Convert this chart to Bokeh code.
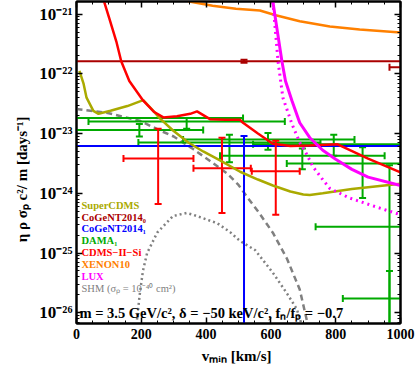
import numpy as np
from bokeh.plotting import figure
from bokeh.models import (Label, LinearAxis, LogAxis, LogTicker, FixedTicker,
                          Range1d, CustomJSTickFormatter)
from bokeh.embed import file_html
from bokeh.resources import INLINE

# ---------------- data: vmin [km/s], log10(eta rho sigma_p c^2/m [1/day]) -------------
supercdms_v = [9, 22, 31, 52, 68, 105, 157, 206, 237, 258, 298, 345, 391, 443, 505, 560,
               606, 660, 700, 720, 760, 850, 1000]
supercdms_lg = [-21.95, -22.17, -22.4, -22.62, -22.67, -22.62, -22.54, -22.44, -22.62, -22.75,
                -22.95, -23.15, -23.3, -23.45, -23.64, -23.77, -23.87, -23.97, -24.02, -24.03,
                -24.0, -23.93, -23.84]

cdms_v = [80, 101, 123, 138, 163, 206, 240, 268, 310, 351, 372, 412, 460, 505, 514, 560, 606,
          660, 720, 806, 900, 1000]
cdms_lg = [-20.7, -21.07, -21.46, -21.79, -22.12, -22.45, -22.64, -22.73, -22.71, -22.67,
           -22.63, -22.76, -22.77, -22.77, -22.82, -23.0, -23.17, -23.21, -23.2, -23.18,
           -23.42, -23.65]

xenon_v = [330, 348, 420, 492, 566, 615, 689, 782, 874, 1000]
xenon_lg = [-20.7, -20.79, -20.86, -20.91, -20.94, -21.02, -21.12, -21.21, -21.26, -21.31]

lux_v = [600, 606, 620, 634, 645, 665, 689, 720, 760, 800, 850, 900, 1000]
lux_lg = [-20.6, -20.79, -21.29, -21.79, -22.12, -22.45, -22.82, -23.07, -23.28, -23.43,
          -23.6, -23.73, -23.87]

lux2_v = [600, 606, 622, 637, 665, 689, 711, 729, 757, 782, 843, 926, 1000]
lux2_lg = [-20.6, -20.79, -21.79, -22.4, -22.84, -23.15, -23.35, -23.55, -23.75, -23.92,
           -24.08, -24.23, -24.36]

shm_v = [0, 100, 197, 258, 300, 360, 410, 465, 500, 529, 560, 606, 650, 689, 714]
shm_lg = [-22.59, -22.66, -22.79, -22.95, -23.05, -23.26, -23.45, -23.67, -23.86, -24.08,
          -24.3, -24.66, -25.1, -25.61, -26.2]

shm2_v = [185, 195, 205, 218, 249, 298, 340, 360, 434, 474, 505, 551, 606, 650, 680, 695]
shm2_lg = [-26.2, -25.7, -25.3, -25.0, -24.66, -24.38, -24.33, -24.36, -24.5, -24.65, -24.8,
           -24.95, -25.33, -25.68, -25.94, -26.2]

# error bars: centre vmin, centre log eta, vmin range, log eta range
cog0_v = [517, 1080]
cog0_lg = [-21.79, -21.89]
cog0_vlo = [-120, 966]
cog0_vhi = [1150, 1200]
cog0_elo = [-21.815, -21.89]
cog0_ehi = [-21.765, -21.89]

cog1_v = [517]
cog1_lg = [-23.21]
cog1_vlo = [-150]
cog1_vhi = [1200]
cog1_elo = [-27.5]
cog1_ehi = [-23.04]

dama_v = [257, 194, 340, 472, 591, 697, 794, 883, 966, 966]
dama_lg = [-22.74, -22.94, -22.80, -23.15, -23.10, -23.37, -23.18, -23.50, -24.56, -25.76]
dama_vlo = [-60, -10, 37, 191, 329, 443, 545, 649, 738, 822]
dama_vhi = [514, 391, 643, 753, 858, 951, 1043, 1117, 1194, 1110]
dama_elo = [-22.74, -23.05, -22.92, -23.48, -23.27, -23.60, -23.37, -24.08, -27.5, -27.5]
dama_ehi = [-22.74, -22.84, -22.74, -23.02, -22.99, -23.25, -23.02, -23.23, -23.53, -25.3]

cdmsp_v = [252, 449, 615]
cdmsp_lg = [-23.42, -23.58, -23.63]
cdmsp_vlo = [145, 361, 541]
cdmsp_vhi = [361, 538, 689]
cdmsp_elo = [-24.18, -24.33, -24.36]
cdmsp_ehi = [-22.92, -23.07, -23.12]

x_ticks = [0, 200, 400, 600, 800, 1000]
legend_names = ["SuperCDMS", "CoGeNT2014₀", "CoGeNT2014₁", "DAMA₁", "CDMS−II−Si",
                "XENON10", "LUX", "SHM (σₚ = 10⁻⁴⁰ cm²)"]
x_title = "vₘᵢₙ  [km/s]"
y_title = "η ρ σₚ c²/ m  [days⁻¹]"
note = "m = 3.5 GeV/c², δ = −50 keV/c², fₙ/fₚ = −0.7"

# ---------------- styles ----------------
OLIVE, DRED, BLUE, GREEN = "#AAAA00", "#AA0000", "#0000FF", "#00AA00"
RED, ORANGE, MAGENTA, GRAY = "#FF0000", "#FF8000", "#FF00FF", "#808080"
legend_colors = [OLIVE, DRED, BLUE, GREEN, RED, ORANGE, MAGENTA, GRAY]
SERIF = "Liberation Serif"

YMIN, YMAX = 10 ** -26.18, 10 ** -20.79
p = figure(width=415, height=366, y_axis_type="log",
           x_range=Range1d(0, 1000), y_range=Range1d(YMIN, YMAX),
           output_backend="svg", toolbar_location=None,
           min_border_left=76, min_border_right=15, min_border_top=1, min_border_bottom=42)
p.grid.visible = False
p.outline_line_color = "black"
p.outline_line_width = 2
p.background_fill_color = "white"
p.border_fill_color = "white"

xt = FixedTicker(ticks=x_ticks, minor_ticks=list(range(0, 1001, 50)))
empty = CustomJSTickFormatter(code="return ''")
pow10 = CustomJSTickFormatter(code="""
const sup = {'-': '\u207b', '0': '\u2070', '1': '\u00b9', '2': '\u00b2', '3': '\u00b3',
             '4': '\u2074', '5': '\u2075', '6': '\u2076', '7': '\u2077', '8': '\u2078',
             '9': '\u2079'};
const e = String(Math.round(Math.log10(tick)));
return '10' + e.split('').map(c => sup[c]).join('');
""")

xa = p.xaxis[0]
xa.ticker = xt
ya = p.yaxis[0]
ya.ticker = LogTicker(num_minor_ticks=10)
ya.formatter = pow10

top = LinearAxis(ticker=xt, formatter=empty)
right = LogAxis(ticker=LogTicker(num_minor_ticks=10), formatter=empty)
p.add_layout(top, "above")
p.add_layout(right, "right")

for ax in [xa, ya, top, right]:
    ax.axis_line_width = 2
    ax.axis_line_color = "black"
    ax.major_tick_in = 6
    ax.major_tick_out = 0
    ax.minor_tick_in = 3
    ax.minor_tick_out = 0
    ax.major_tick_line_width = 1.5
    ax.minor_tick_line_width = 1
    ax.major_label_text_font = SERIF
    ax.major_label_text_font_style = "bold"
    ax.major_label_text_font_size = "14px"
    ax.major_label_text_color = "black"
for ax in [top, right]:
    ax.major_label_text_font_size = "0px"
    ax.major_label_standoff = 0
xa.major_label_standoff = 5
ya.major_label_standoff = 4
ya.major_label_text_font_size = "17px"

xa.axis_label = x_title
xa.axis_label_standoff = 6
ya.axis_label = y_title + "\u00a0" * 8
ya.axis_label_standoff = 6
for ax in [xa, ya]:
    ax.axis_label_text_font = SERIF
    ax.axis_label_text_font_style = "bold"
    ax.axis_label_text_font_size = "15px"
    ax.axis_label_text_color = "black"


def lg(a):
    return 10 ** np.asarray(a, dtype=float)


# ---------------- curves ----------------
p.line(shm_v, lg(shm_lg), line_color=GRAY, line_width=2.5, line_dash="6 4")
p.line(shm2_v, lg(shm2_lg), line_color=GRAY, line_width=2.5, line_dash="2 3")


def errbars(v, c, vlo, vhi, elo, ehi, color):
    y = lg(c)
    p.segment(x0=vlo, y0=y, x1=vhi, y1=y, line_color=color, line_width=2)
    p.scatter(x=list(vlo) + list(vhi), y=list(y) + list(y), marker="dash", angle=np.pi / 2,
              size=7, line_color=color, line_width=2)
    m = [i for i in range(len(v)) if elo[i] != ehi[i]]
    if m:
        vv = [v[i] for i in m]
        lo = lg([elo[i] for i in m])
        hi = lg([ehi[i] for i in m])
        p.segment(x0=vv, y0=lo, x1=vv, y1=hi, line_color=color, line_width=2)
        p.scatter(x=vv + vv, y=list(lo) + list(hi), marker="dash", size=7,
                  line_color=color, line_width=2)


errbars(dama_v, dama_lg, dama_vlo, dama_vhi, dama_elo, dama_ehi, GREEN)
errbars(cog0_v, cog0_lg, cog0_vlo, cog0_vhi, cog0_elo, cog0_ehi, DRED)
errbars(cog1_v, cog1_lg, cog1_vlo, cog1_vhi, cog1_elo, cog1_ehi, BLUE)
errbars(cdmsp_v, cdmsp_lg, cdmsp_vlo, cdmsp_vhi, cdmsp_elo, cdmsp_ehi, RED)

p.line(supercdms_v, lg(supercdms_lg), line_color=OLIVE, line_width=2.5)
p.line(cdms_v, lg(cdms_lg), line_color=RED, line_width=2.5)
p.line(xenon_v, lg(xenon_lg), line_color=ORANGE, line_width=2.5)
p.line(lux2_v, lg(lux2_lg), line_color=MAGENTA, line_width=3, line_dash="2 4")
p.line(lux_v, lg(lux_lg), line_color=MAGENTA, line_width=3)

# ---------------- legend (coloured text) ----------------
leg_top = -24.2
leg_step = 0.199
for i, (name, col) in enumerate(zip(legend_names, legend_colors)):
    p.add_layout(Label(x=0, y=10 ** (leg_top - i * leg_step), x_offset=5, text=name,
                       text_align="left", text_baseline="middle", text_font=SERIF,
                       text_font_style="normal" if col == GRAY else "bold",
                       text_font_size="10.5px", text_color=col))

p.add_layout(Label(x=0, y=10 ** -26.0, x_offset=3, text=note,
                   text_align="left", text_baseline="middle", text_font=SERIF,
                   text_font_style="bold", text_font_size="14.5px", text_color="black"))

open("out.html", "w").write(file_html(p, INLINE))
